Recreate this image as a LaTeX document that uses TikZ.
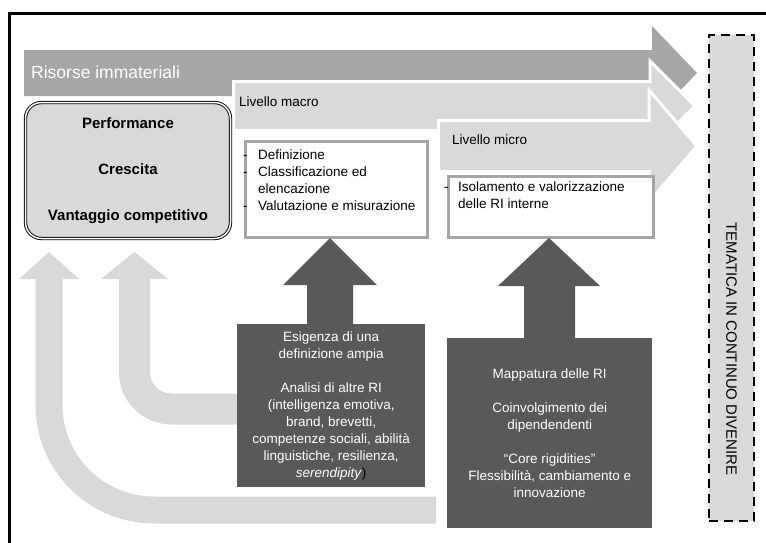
\documentclass[tikz,border=0pt]{standalone}
\usepackage{fontspec}
\setmainfont{Liberation Sans}
\usetikzlibrary{positioning}
\definecolor{riGray}{HTML}{A6A6A6}
\definecolor{riLight}{HTML}{D9D9D9}
\definecolor{riDark}{HTML}{595959}
\newcommand{\bodyfont}{\fontsize{13.5pt}{17pt}\selectfont}

\begin{document}
\begin{tikzpicture}[x=1pt,y=-1pt,
  txt/.style={inner sep=0pt,font=\bodyfont,align=left},
  wbox/.style={draw=riGray,line width=3pt,fill=white,anchor=north west,inner sep=0pt},
  dbox/.style={fill=riDark,text=white,font=\bodyfont,align=center,anchor=north west,inner sep=0pt},
  lvl/.style={fill=riLight,draw=white,line width=3pt},
  bent/.style={draw=riLight,line width=#1}]
\useasboundingbox (0,0) rectangle (766,542);
\draw[line width=3pt] (9.5,600) -- (9.5,13.5) -- (800,13.5);

% livelli
\fill[riGray] (24,50) -- (652,50) -- (652,26) -- (697,73) -- (652,120) -- (652,96) -- (24,96) -- cycle;
\filldraw[lvl] (233.5,81.5) -- (650,81.5) -- (650,61) -- (695,106) -- (650,151) -- (650,130.5) -- (233.5,130.5) -- cycle;
\filldraw[lvl] (438.5,120.5) -- (649,120.5) -- (649,90) -- (697,146) -- (649,202) -- (649,171.5) -- (438.5,171.5) -- cycle;
\node[inner sep=0pt,anchor=west,text=white,font=\fontsize{17.5pt}{21pt}\selectfont] (ri) at (31,72) {Risorse immateriali};
\node[txt,anchor=west] (macro) at (239,102) {Livello macro};
\node[txt,anchor=west] (micro) at (452,140) {Livello micro};

% risultati
\node[draw,double,line width=0.9pt,double distance=1.5pt,rounded corners=16pt,fill=riLight,
  minimum width=205pt,minimum height=136pt,align=center,
  font=\fontsize{15pt}{18pt}\selectfont\bfseries] (perf) at (128,170.5)
  {Performance\\[28pt]Crescita\\[28pt]Vantaggio competitivo};

\node[wbox,minimum width=182pt,minimum height=96pt] (macrobox) at (243.5,139.5) {};
\node[txt,anchor=north west] (macrotxt) at (243,150)
  {\makebox[15pt][l]{-}Definizione\\
   \makebox[15pt][l]{-}Classificazione ed\\
   \hspace*{15pt}elencazione\\
   \makebox[15pt][l]{-}Valutazione e misurazione};
\node[wbox,minimum width=205pt,minimum height=61pt] (microbox) at (446.5,174.5) {};
\node[txt,anchor=north west] (microtxt) at (444,182)
  {\makebox[14pt][l]{-}Isolamento e valorizzazione\\
   \hspace*{14pt}delle RI interne};

% frecce di ritorno
\draw[bent=27pt,rounded corners=105pt] (436,510) -- (49,510) -- (49,279);
\fill[riLight] (19,279) -- (49,252) -- (79,279) -- cycle;
\draw[bent=31pt,rounded corners=37pt] (250,409) -- (134.5,409) -- (134.5,279);
\fill[riLight] (101,279) -- (134.5,252) -- (168,279) -- cycle;

% esigenze
\node[dbox,minimum width=188pt,minimum height=163pt] (need1) at (237,324)
  {Esigenza di una\\definizione ampia\\[17pt]Analisi di altre RI\\(intelligenza emotiva,\\brand, brevetti,\\competenze sociali, abilità\\linguistiche, resilienza,\\\textit{serendipity}\textcolor{black}{)}};
\node[dbox,minimum width=205pt,minimum height=190pt] (need2) at (447,338)
  {Mappatura delle RI\\[17pt]Coinvolgimento dei\\dipendendenti\\[17pt]“Core rigidities”\\Flessibilità, cambiamento e\\innovazione};
\fill[riDark] (307,326) -- (307,285) -- (283,285) -- (330,238) -- (377,285) -- (353,285) -- (353,326) -- cycle;
\fill[riDark] (524,340) -- (524,286) -- (498,286) -- (549,238) -- (600,286) -- (575,286) -- (575,340) -- cycle;

% tema
\node[draw,dashed,dash pattern=on 9pt off 6pt,line width=2.5pt,fill=riLight,
  minimum width=45pt,minimum height=486pt] (tema) at (731.5,278) {};
\node[inner sep=0pt,rotate=-90,font=\fontsize{15pt}{18pt}\selectfont] (tematxt) at (731.5,349)
  {TEMATICA IN CONTINUO DIVENIRE};
\end{tikzpicture}
\end{document}
